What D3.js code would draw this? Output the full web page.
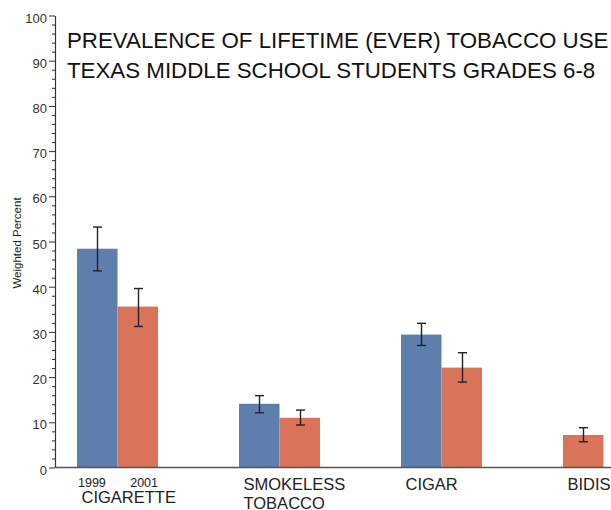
<!DOCTYPE html>
<html>
<head>
<meta charset="utf-8">
<script src="https://cdn.jsdelivr.net/npm/d3@7"></script>
<style>
  html, body { margin: 0; padding: 0; background: #fff; }
  svg { display: block; font-family: Arial, "Liberation Sans", sans-serif; }
</style>
</head>
<body>
<svg id="chart" width="611" height="510"></svg>
<script>
// ---- data ----
const categories = ["CIGARETTE", "SMOKELESS TOBACCO", "CIGAR", "BIDIS"];
const categoryLines = [["CIGARETTE"], ["SMOKELESS", "TOBACCO"], ["CIGAR"], ["BIDIS"]];
const years = ["1999", "2001"];
const values1999 = [48.4, 14.1, 29.4, null];
const values2001 = [35.6, 11.0, 22.1, 7.2];
const low1999 = [43.5, 12.1, 27.0, null];
const high1999 = [53.2, 15.9, 31.9, null];
const low2001 = [31.2, 9.4, 18.9, 5.7];
const high2001 = [39.6, 12.7, 25.4, 8.8];
const yTicks = [0, 10, 20, 30, 40, 50, 60, 70, 80, 90, 100];
const titleLines = ["PREVALENCE OF LIFETIME (EVER) TOBACCO USE", "TEXAS MIDDLE SCHOOL STUDENTS GRADES 6-8"];
const yLabel = "Weighted Percent";

const colors = { "1999": "#5e7fae", "2001": "#d9745a" };

const svg = d3.select("#chart");

const x = d3.scaleBand()
  .domain(categories)
  .range([55, 666])
  .paddingInner(0.5)
  .paddingOuter(0.136);

const slot = d3.scaleBand().domain([0, 1]).range([0, x.bandwidth()]);

const y = d3.scaleLinear().domain([0, 100]).range([467.5, 15.5]);

// build bar records (bars compacted into the available slots of each group)
const bars = [];
categories.forEach((c, i) => {
  const series = [
    { year: years[0], v: values1999[i], lo: low1999[i], hi: high1999[i] },
    { year: years[1], v: values2001[i], lo: low2001[i], hi: high2001[i] }
  ].filter(d => d.v != null);
  series.forEach((d, k) => bars.push({ cat: c, idx: i, slot: k, ...d }));
});

// bars
svg.append("g").selectAll("rect").data(bars).join("rect")
  .attr("x", d => x(d.cat) + slot(d.slot))
  .attr("y", d => y(d.v))
  .attr("width", slot.bandwidth())
  .attr("height", d => y(0) - y(d.v))
  .attr("fill", d => colors[d.year]);

// error bars
const eb = svg.append("g").attr("stroke", "#222").attr("stroke-width", 1.4).attr("fill", "none");
bars.forEach(d => {
  const cx = Math.round(x(d.cat) + slot(d.slot) + slot.bandwidth() / 2) + 0.5;
  eb.append("line").attr("x1", cx).attr("x2", cx).attr("y1", y(d.hi)).attr("y2", y(d.lo));
  eb.append("line").attr("x1", cx - 4.5).attr("x2", cx + 4.5).attr("y1", y(d.hi)).attr("y2", y(d.hi));
  eb.append("line").attr("x1", cx - 4.5).attr("x2", cx + 4.5).attr("y1", y(d.lo)).attr("y2", y(d.lo));
});

// y axis: minor ticks
const minor = d3.range(0, 101, 2).filter(v => v % 10 !== 0);
const gMinor = svg.append("g").attr("transform", "translate(55,0)")
  .call(d3.axisLeft(y).tickValues(minor).tickSize(3).tickFormat(""));
gMinor.select(".domain").remove();
gMinor.selectAll("line").attr("stroke", "#333");

const gy = svg.append("g").attr("transform", "translate(55,0)")
  .call(d3.axisLeft(y).tickValues(yTicks).tickSize(6).tickSizeOuter(0).tickPadding(2).tickFormat(d3.format("d")));
gy.select(".domain").attr("stroke", "#333").attr("stroke-width", 1.2);
gy.selectAll(".tick line").attr("stroke", "#333");
gy.selectAll("text")
  .attr("font-size", "13px")
  .attr("font-family", "Arial, 'Liberation Sans', sans-serif")
  .attr("fill", "#333")
  .attr("dy", "0.5em");

// x axis baseline
svg.append("line")
  .attr("x1", 55).attr("x2", 611)
  .attr("y1", y(0)).attr("y2", y(0))
  .attr("stroke", "#555").attr("stroke-width", 1.6);

// year labels under first group
const firstBars = bars.filter(d => d.idx === 0);
svg.append("g").selectAll("text").data(firstBars).join("text")
  .attr("x", d => d.slot === 0 ? x(d.cat) + slot(d.slot) + 1 : x(d.cat) + slot(d.slot) + slot.bandwidth())
  .attr("y", 486.5)
  .attr("text-anchor", d => d.slot === 0 ? "start" : "end")
  .attr("font-size", "12.5px")
  .attr("fill", "#222")
  .text(d => d.year);

// category labels
categories.forEach((c, i) => {
  const lines = categoryLines[i];
  const baseY = i === 0 ? 503 : 490;
  const t = svg.append("text")
    .attr("x", x(c) + 4.5)
    .attr("y", baseY)
    .attr("font-size", "16.5px")
    .attr("fill", "#222");
  lines.forEach((l, k) => {
    t.append("tspan").attr("x", x(c) + 4.5).attr("y", baseY + k * 19).text(l);
  });
});

// y label
svg.append("text")
  .attr("transform", "translate(21,243) rotate(-90)")
  .attr("text-anchor", "middle")
  .attr("font-size", "11.5px")
  .attr("fill", "#222")
  .text(yLabel);

// title
svg.append("g").selectAll("text").data(titleLines).join("text")
  .attr("x", 67)
  .attr("y", (d, i) => 48 + i * 29.5)
  .attr("font-size", "22.3px")
  .attr("fill", "#111")
  .text(d => d);
</script>
</body>
</html>
